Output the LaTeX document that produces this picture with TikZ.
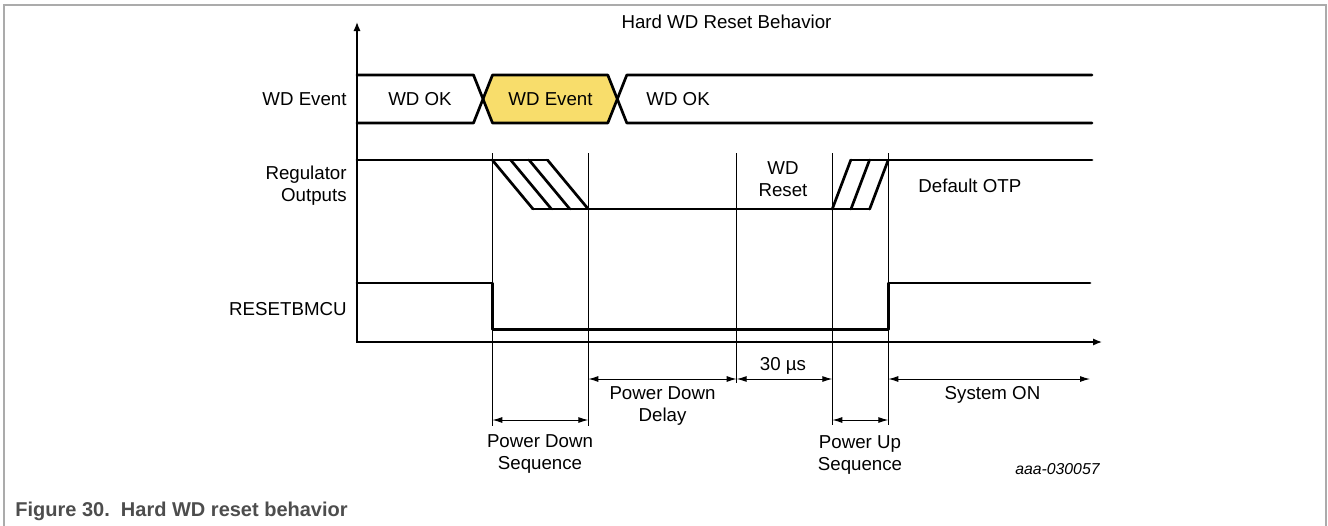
\documentclass[tikz,border=0pt]{standalone}
\usepackage{fontspec}
\setmainfont{Liberation Sans}
\usetikzlibrary{arrows.meta,positioning,calc}
\definecolor{wdYellow}{HTML}{F8DD6B}
\definecolor{wdFrame}{HTML}{ABABAB}
\definecolor{wdCaption}{HTML}{4D4D4D}

\begin{document}
\begin{tikzpicture}[x=0.5pt, y=-0.5pt,
  sig/.style={line width=1.35pt, line cap=round, line join=round},
  guide/.style={line width=0.45pt},
  span/.style={line width=0.5pt, {Latex[length=5pt,width=3pt]}-{Latex[length=5pt,width=3pt]}},
  lbl/.style={font=\fontsize{9.35}{11}\selectfont, inner sep=0pt},
  tag/.style={lbl, align=center, anchor=north}]
  \useasboundingbox (0,0) rectangle (1328,525);
  \draw[wdFrame, line width=0.8pt] (4,530) -- (4,5) -- (1326,5) -- (1326,530);

  % axes
  \draw[line width=0.7pt, {Latex[length=4.5pt,width=3.6pt]}-{Latex[length=4.5pt,width=3.6pt]}]
    (357,22) -- (357,342) -- (1102,342);
  \node[lbl, anchor=base] (title) at (726.5,28) {Hard WD Reset Behavior};

  % WD event row
  \node[lbl, anchor=base east] (lblWd) at (347,105.7) {WD Event};
  \draw[sig, fill=wdYellow] (483,99) -- (492.5,75) -- (607.8,75) -- (617.3,99)
    -- (607.8,123) -- (492.5,123) -- cycle;
  \draw[sig] (357,75) -- (473.5,75) -- (483,99) -- (473.5,123) -- (357,123);
  \draw[sig] (1092,75) -- (626.8,75) -- (617.3,99) -- (626.8,123) -- (1092,123);
  \node[lbl, anchor=base] (wdOkA) at (420,105.7) {WD OK};
  \node[lbl, anchor=base] (wdEvent) at (550.5,105.7) {WD Event};
  \node[lbl, anchor=base west] (wdOkB) at (646,105.7) {WD OK};

  % regulator row
  \node[lbl, align=right, anchor=north east] (lblReg) at (347,165.8) {Regulator\\Outputs};
  \draw[sig] (357,160) -- (547.5,160);
  \draw[sig] (533,209) -- (869.7,209);
  \draw[sig] (850.8,160) -- (1092,160);
  \foreach \i in {0,...,3}
    \draw[sig] (492.3+18.4*\i,160) -- (533+18.4*\i,209);
  \foreach \i in {0,1,2}
    \draw[sig] (832.3+18.7*\i,209) -- (850.8+18.7*\i,160);
  \node[tag] (wdReset) at (783,161.3) {WD\\Reset};
  \node[lbl, anchor=base west] (otp) at (918,192.7) {Default OTP};

  % resetbmcu row
  \node[lbl, anchor=base east] (lblRst) at (347,315.5) {RESETBMCU};
  \draw[sig] (357,283) -- (492.3,283) -- (492.3,329.5) -- (888.3,329.5)
    -- (888.3,283) -- (1090,283);

  % time marks
  \foreach \n/\x in {tA/492.3, tB/588.3, tC/736.7, tD/832.3, tE/888.3, tEnd/1090}
    \coordinate (\n) at (\x,153);
  \coordinate (yHi) at (0,379);
  \coordinate (yLo) at (0,420);
  \draw[guide] (tA) -- (tA |- 0,426);
  \draw[guide] (tB) -- (tB |- 0,426);
  \draw[guide] (tC) -- (tC |- 0,383);
  \draw[guide] (tD) -- (tD |- 0,425);
  \draw[guide] (tE) -- (tE |- 0,425);

  \draw[span] (tA |- yLo) -- (tB |- yLo);
  \draw[span] (tB |- yHi) -- (tC |- yHi);
  \draw[span] (tC |- yHi) -- (tD |- yHi);
  \draw[span] (tD |- yLo) -- (tE |- yLo);
  \draw[span] (tE |- yHi) -- (tEnd |- yHi);

  \node[tag] (pdSeq) at (540,434) {Power Down\\Sequence};
  \node[tag] (pdDelay) at (662.5,386) {Power Down\\Delay};
  \node[lbl, anchor=base] (waitUs) at (783,370.7) {30 µs};
  \node[tag] (puSeq) at (860,435) {Power Up\\Sequence};
  \node[lbl, anchor=base] (sysOn) at (992.5,399.7) {System ON};
  \node[lbl, anchor=base east, font=\fontsize{7.9}{9}\selectfont\itshape] (figId) at (1100,474.7) {aaa-030057};

  \node[anchor=base west, inner sep=0pt, text=wdCaption, font=\fontsize{10}{12}\selectfont\bfseries]
    (caption) at (15,516.7) {Figure 30.~~Hard WD reset behavior};
\end{tikzpicture}
\end{document}
